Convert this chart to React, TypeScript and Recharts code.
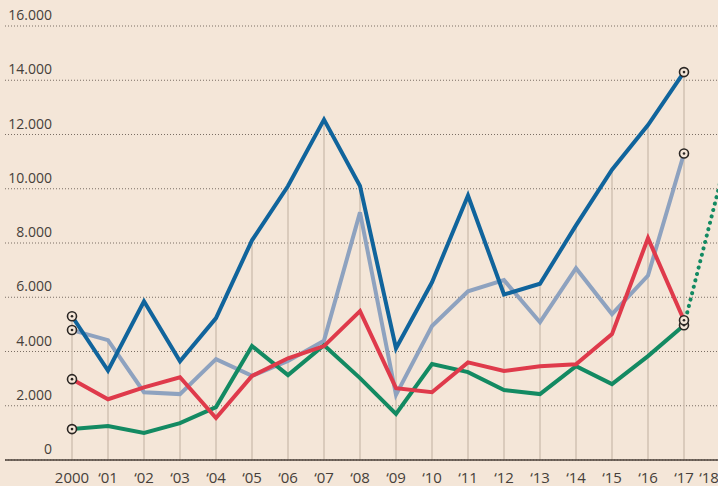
import { ComposedChart, Line, XAxis, YAxis, CartesianGrid, ReferenceLine } from "recharts";

const years = [2000, 2001, 2002, 2003, 2004, 2005, 2006, 2007, 2008, 2009, 2010, 2011, 2012, 2013, 2014, 2015, 2016, 2017, 2018];
const yearLabels = ["2000", "‘01", "‘02", "‘03", "‘04", "‘05", "‘06", "‘07", "‘08", "‘09", "‘10", "‘11", "‘12", "‘13", "‘14", "‘15", "‘16", "‘17", "‘18"];

const blue = [5300, 3300, 5850, 3640, 5230, 8100, 10100, 12550, 10100, 4120, 6550, 9750, 6100, 6500, 8650, 10700, 12350, 14300, null];
const grey = [4790, 4420, 2500, 2430, 3720, 3100, 3650, 4400, 9130, 2400, 4940, 6220, 6630, 5080, 7070, 5380, 6800, 11300, null];
const red = [2980, 2240, 2680, 3050, 1550, 3100, 3750, 4200, 5490, 2650, 2500, 3600, 3280, 3460, 3530, 4640, 8180, 5150, null];
const green = [1140, 1250, 1000, 1360, 1950, 4200, 3130, 4230, 3020, 1700, 3540, 3240, 2580, 2430, 3460, 2800, 3830, 4970, null];
const projection = [null, null, null, null, null, null, null, null, null, null, null, null, null, null, null, null, null, 4970, 10200];

const yTicks = [0, 2000, 4000, 6000, 8000, 10000, 12000, 14000, 16000];

const data = years.map((year, i) => ({
  year,
  blue: blue[i],
  grey: grey[i],
  red: red[i],
  green: green[i],
  projection: projection[i],
}));

const endDot = (props: any) => {
  const { cx, cy, index } = props;
  if ((index !== 0 && index !== 17) || cx == null || cy == null) return <g key={`d${index}`} />;
  return (
    <g key={`d${index}`}>
      <circle cx={cx} cy={cy} r={4.5} fill="#f4e6d8" stroke="#2b2724" strokeWidth={1.6} />
      <circle cx={cx} cy={cy} r={1.3} fill="#2b2724" />
    </g>
  );
};

const yTick = (props: any) => {
  const { y, payload, index } = props;
  const v = Number(payload?.value ?? 0);
  const label = v === 0 ? "0" : String(v).replace(/(\d)(?=(\d{3})+$)/g, "$1.");
  return (
    <text key={`yt${index}`} x={52} y={y - 6} textAnchor="end" fill="#463f3a" fontSize={14} fontFamily="Open Sans">
      {label}
    </text>
  );
};

const xTick = (props: any) => {
  const { x, y, payload, index } = props;
  const i = years.indexOf(Number(payload?.value));
  // the last label is squeezed in against the right edge
  const shift = i === years.length - 1 ? -11 : 0;
  return (
    <text key={`xt${index}`} x={x + shift} y={y + 12} textAnchor="middle" fill="#463f3a" fontSize={15} fontFamily="Open Sans">
      {yearLabels[i]}
    </text>
  );
};

export default function App() {
  return (
    <div style={{ position: "absolute", left: 0, top: 0, width: 718, height: 486, overflow: "hidden", background: "#f4e6d8" }}>
      <ComposedChart width={740} height={486} data={data} margin={{ top: 26, right: 0, bottom: 0, left: 4 }}>
        <CartesianGrid vertical={false} stroke="#7a6e64" strokeDasharray="1 2" />
        {years.slice(0, 18).map((yr, i) => (
          <ReferenceLine
            key={yr}
            segment={[
              { x: yr, y: 0 },
              { x: yr, y: Math.max(blue[i] as number, grey[i] as number, red[i] as number, green[i] as number) },
            ]}
            stroke="#d2c2b3"
            strokeWidth={1.5}
          />
        ))}
        <XAxis
          dataKey="year"
          type="number"
          domain={[2000, 2018]}
          ticks={years}
          padding={{ left: 67, right: 20 }}
          tickLine={false}
          tickMargin={5}
          axisLine={{ stroke: "#4a3f38", strokeWidth: 1.5 }}
          tick={xTick}
          height={26}
          interval={0}
        />
        <YAxis width={1} domain={[0, 16000]} ticks={yTicks} axisLine={false} tickLine={false} tick={yTick} interval={0} />
        <Line dataKey="grey" stroke="#8ea2bf" strokeWidth={4} dot={endDot} isAnimationActive={false} strokeLinejoin="miter" />
        <Line dataKey="green" stroke="#138a62" strokeWidth={4} dot={endDot} isAnimationActive={false} strokeLinejoin="miter" />
        <Line dataKey="red" stroke="#df3a4b" strokeWidth={4} dot={endDot} isAnimationActive={false} strokeLinejoin="miter" />
        <Line dataKey="blue" stroke="#10649c" strokeWidth={4} dot={endDot} isAnimationActive={false} strokeLinejoin="miter" />
        <Line
          dataKey="projection"
          stroke="#138a62"
          strokeWidth={4}
          strokeDasharray="0.1 6.5"
          strokeLinecap="round"
          dot={false}
          isAnimationActive={false}
        />
      </ComposedChart>
    </div>
  );
}
